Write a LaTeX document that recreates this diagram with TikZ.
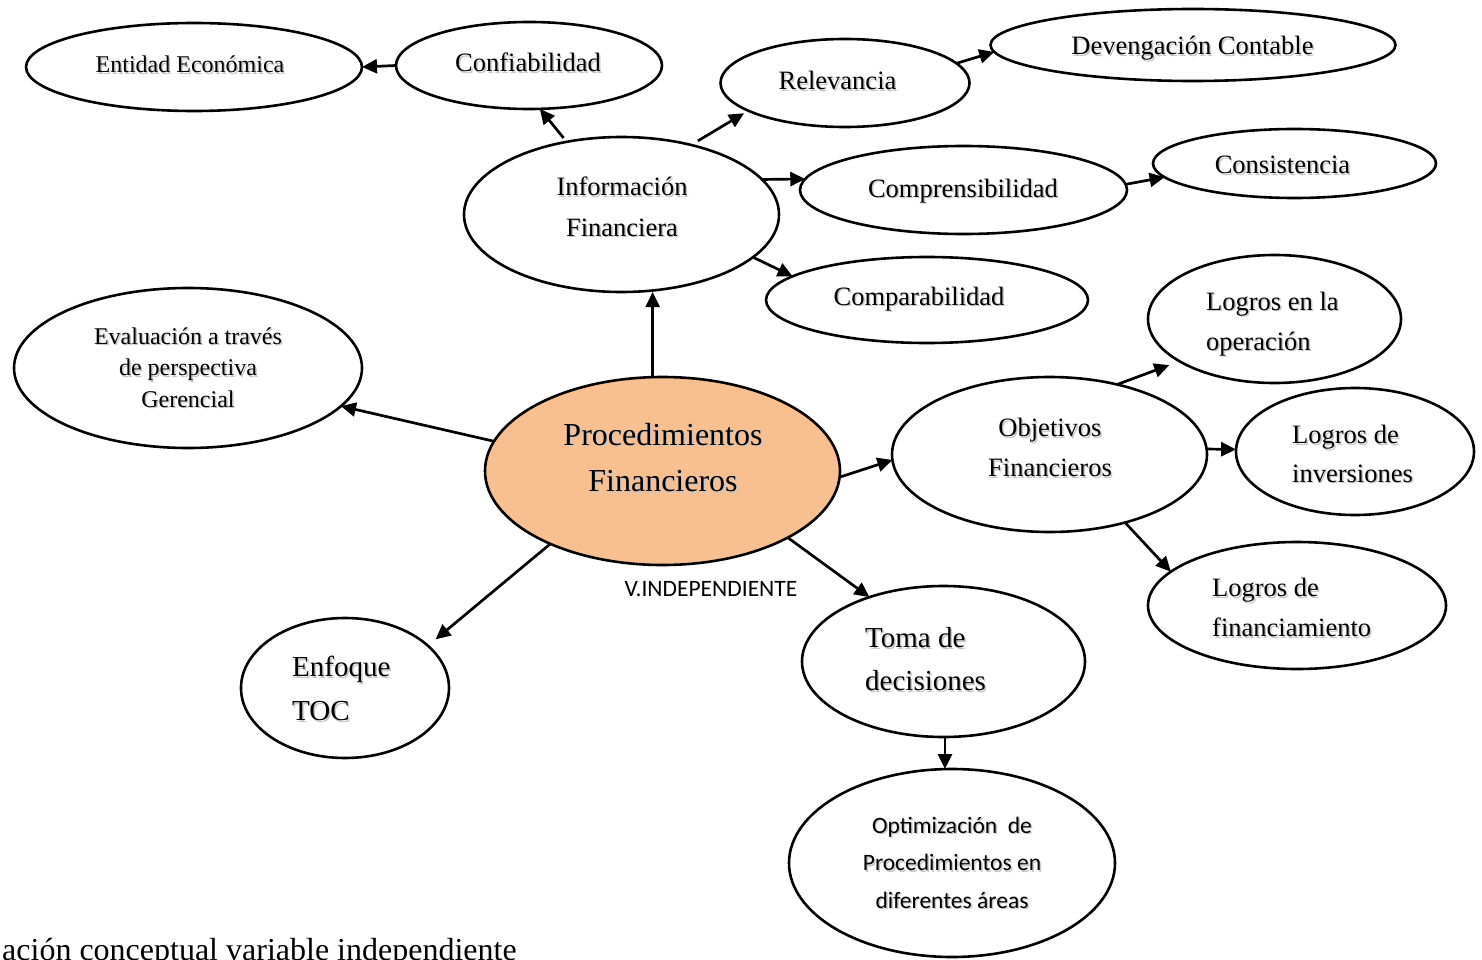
\documentclass[tikz,border=0pt]{standalone}
\usepackage{fontspec}
\setmainfont{Liberation Serif}
\newfontfamily\calib{Carlito}
\usetikzlibrary{shapes.geometric,arrows.meta}
\definecolor{procfill}{RGB}{248,192,144}

% one label with a soft grey drop shadow: #1 name, #2 options, #3 x,y of first baseline, #4 text
\newcommand\shlabel[4]{%
  \node[lbl,#2,text=black!22] at ([shift={(1.5,1.5)}]#3) {#4};
  \node[lbl,#2] (#1) at (#3) {#4};}
\newcommand\linesc[1]{\begin{tabular}[t]{@{}c@{}}#1\end{tabular}}
\newcommand\linesl[1]{\begin{tabular}[t]{@{}l@{}}#1\end{tabular}}

\begin{document}
\begin{tikzpicture}[x=1pt,y=-1pt,
  bub/.style={ellipse,draw=black,line width=2.6pt,fill=white,inner sep=0pt,outer sep=0pt},
  lbl/.style={anchor=base,inner sep=0pt,font=\fontsize{26.5}{40}\selectfont},
  lnk/.style={line width=2.7pt,-{Triangle[length=15pt,width=14pt]}},
]
\clip (0,0) rectangle (1482,960);
\fill[white] (0,0) rectangle (1482,960);

% bubbles
\node[bub,minimum width=336pt,minimum height=88pt] (ent)   at (194,67) {};
\node[bub,minimum width=266pt,minimum height=87pt] (conf)  at (529,65.5) {};
\node[bub,minimum width=249pt,minimum height=88pt] (rel)   at (845,83) {};
\node[bub,minimum width=405pt,minimum height=72pt] (dev)   at (1193,45) {};
\node[bub,minimum width=315pt,minimum height=155pt] (info) at (621.5,214.5) {};
\node[bub,minimum width=327pt,minimum height=88pt] (comp)  at (963.5,190) {};
\node[bub,minimum width=283pt,minimum height=69pt] (cons)  at (1294.5,163.5) {};
\node[bub,minimum width=322pt,minimum height=86pt] (compa) at (927,300) {};
\node[bub,minimum width=348pt,minimum height=160pt] (eval) at (188,368) {};
\node[bub,fill=procfill,minimum width=355pt,minimum height=188pt] (proc) at (662.5,471) {};
\node[bub,minimum width=315pt,minimum height=155pt] (obj)  at (1049.5,454.5) {};
\node[bub,minimum width=253pt,minimum height=128pt] (lop)  at (1274.5,319) {};
\node[bub,minimum width=238pt,minimum height=127pt] (linv) at (1355,451.5) {};
\node[bub,minimum width=298pt,minimum height=127pt] (lfin) at (1297,605.5) {};
\node[bub,minimum width=283pt,minimum height=151pt] (toma) at (943.5,661.5) {};
\node[bub,minimum width=208pt,minimum height=140pt] (enf)  at (345,688) {};
\node[bub,minimum width=326pt,minimum height=188pt] (opt)  at (952,863) {};

% labels
\shlabel{tent}{font=\fontsize{24}{32}\selectfont}{190,73}{Entidad Económica}
\shlabel{tconf}{}{528,72}{Confiabilidad}
\shlabel{trel}{}{837.5,90}{Relevancia}
\shlabel{tdev}{}{1192.5,55}{Devengación Contable}
\shlabel{tinfo}{}{622,196}{\linesc{Información\\Financiera}}
\shlabel{tcomp}{}{963,197}{Comprensibilidad}
\shlabel{tcons}{}{1282.5,174}{Consistencia}
\shlabel{tcompa}{}{919,305}{Comparabilidad}
\shlabel{teval}{font=\fontsize{24}{31.5}\selectfont}{188,344}{\linesc{Evaluación a través\\de perspectiva\\Gerencial}}
\shlabel{tproc}{font=\fontsize{32}{46.5}\selectfont}{663,445}{\linesc{Procedimientos\\Financieros}}
\shlabel{tobj}{}{1050,436.5}{\linesc{Objetivos\\Financieros}}
\shlabel{tlop}{anchor=base west}{1206,310}{\linesl{Logros en la\\operación}}
\shlabel{tlinv}{anchor=base west,font=\fontsize{26.5}{38.5}\selectfont}{1292,443.5}{\linesl{Logros de\\inversiones}}
\shlabel{tlfin}{anchor=base west}{1212,596.5}{\linesl{Logros de\\financiamiento}}
\shlabel{ttoma}{anchor=base west,font=\fontsize{29}{43}\selectfont}{865,647.5}{\linesl{Toma de\\decisiones}}
\shlabel{tenf}{anchor=base west,font=\fontsize{29}{44}\selectfont}{292,676.5}{\linesl{Enfoque\\TOC}}
\shlabel{topt}{font=\calib\fontsize{23.5}{37.5}\selectfont}{952,833}{\linesc{Optimización\ \ de\\Procedimientos en\\diferentes áreas}}
\node[lbl,font=\calib\fontsize{23.5}{28}\selectfont] (vind) at (711,596.5) {V.INDEPENDIENTE};
\node[lbl,anchor=base west,font=\fontsize{32}{38}\selectfont] (capt) at (2,960) {ación conceptual variable independiente};

% connectors
\draw[lnk] (conf.180) -- (ent.0);
\draw[lnk,shorten <=5pt] (info.127) -- (conf.-76);
\draw[lnk,shorten <=8pt,shorten >=5pt] (info.45) -- (rel.-164);
\draw[lnk] (rel.10) -- (dev.-178);
\draw[lnk] (info.14) -- (comp.176);
\draw[lnk] (comp.2) -- (cons.-174);
\draw[lnk] (info.-18) -- (compa.170);
\draw[lnk] (proc.96) -- (proc.96 |- info.south);
\draw[lnk] (proc.170) -- (eval.-14);
\draw[lnk,shorten >=10pt] (proc.-147) -- (enf.27);
\draw[lnk] (proc.-2) -- (obj.-178);
\draw[lnk] (proc.-28) -- (toma.139);
\draw[lnk,shorten >=11pt] (obj.46) -- (lop.-156);
\draw[lnk] (obj.2) -- (linv.179);
\draw[lnk] (obj.-42) -- (lfin.165);
\draw[lnk] ([xshift=1.5pt]toma.south) -- ([xshift=1.5pt]toma.south |- opt.north);
\end{tikzpicture}
\end{document}
